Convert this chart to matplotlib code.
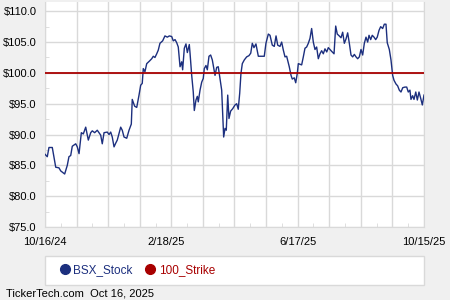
import matplotlib
matplotlib.use("Agg")
import matplotlib.pyplot as plt
from matplotlib.lines import Line2D
from matplotlib.patches import Rectangle
import numpy as np

# days since 10/16/24 and closing price
days = [
    0.0, 2.2, 3.8, 7.0, 10.3, 13.4, 15.1, 18.9, 21.4, 23.0, 24.7, 26.2, 29.5, 31.0, 32.7,
    34.9, 36.8, 39.1, 41.6, 43.9, 45.4, 47.7, 50.2, 51.9, 53.5, 55.0, 56.7, 59.8, 61.5,
    63.1, 64.6, 66.3, 67.9, 69.4, 72.7, 74.2, 75.9, 78.5, 80.7, 82.9, 83.8, 86.1, 88.1,
    90.3, 91.9, 93.4, 94.4,
    96.0, 97.7, 100.2, 102.5, 104.0, 105.6, 107.3, 108.8, 110.4, 113.0, 115.2, 117.5,
    119.4, 121.7, 123.2, 124.9, 126.5, 128.0, 129.7, 131.3, 132.2, 133.8, 135.4, 136.7,
    138.6, 139.3, 140.9, 142.4, 143.4, 145.0, 146.3, 147.2, 148.9, 150.5, 152.0, 153.0,
    154.6, 155.9, 157.5, 159.1, 160.7, 162.3, 163.3, 164.9, 166.4, 168.1, 169.7, 170.7,
    171.6, 172.9, 174.1, 175.5, 176.7, 178.3, 180.3,
    182.5, 184.1, 185.6, 187.0, 188.2, 189.5, 191.4, 193.7, 195.9, 197.6, 199.1, 200.7,
    202.6, 204.9, 207.4, 210.6, 212.2, 214.5, 216.1, 218.3, 220.2, 221.9, 223.5, 225.7,
    227.3, 228.9, 230.5, 232.1, 233.1, 234.6, 236.3, 237.5, 239.4, 240.8, 242.3, 243.3,
    244.9, 246.5, 248.1, 249.7, 251.3, 252.9, 254.5, 256.1, 257.7, 259.3, 260.9, 262.5,
    264.1, 265.7, 267.3, 268.9, 270.6, 272.1,
    273.7, 275.3, 277.6, 279.2, 280.7, 282.6, 284.3, 285.9, 287.5, 289.1, 290.7, 292.3,
    293.9, 295.5, 297.1, 298.7, 300.3, 301.9, 303.5, 305.1, 306.7, 308.3, 309.9, 311.2,
    312.8, 314.3, 316.0, 317.6, 319.1, 320.8, 322.4, 324.3, 325.9, 327.5, 328.7, 330.7,
    332.3, 333.9, 335.2, 337.1, 338.7, 340.3, 341.9, 343.6, 345.7, 347.4, 348.9, 350.5,
    351.5, 353.1, 354.4, 356.1, 357.6, 359.2, 360.8, 362.4, 364.0,
]
bsx_stock = [
    86.8, 86.4, 87.9, 87.9, 84.7, 84.6, 84.1, 83.6, 85.0, 86.4, 86.6, 88.1, 88.5, 88.0, 86.9,
    90.3, 90.1, 91.2, 89.1, 90.3, 90.6, 90.3, 90.7, 90.3, 89.9, 88.5, 90.3, 90.4, 90.0,
    90.4, 89.6, 88.0, 88.6, 89.1, 91.2, 90.7, 89.6, 89.4, 90.7, 91.7, 95.7, 94.6, 94.4,
    96.4, 98.0, 98.3, 100.7,
    100.2, 101.5, 101.9, 102.3, 102.7, 102.5, 103.1, 103.7, 104.8, 105.2, 106.0, 105.8,
    106.0, 105.9, 105.2, 105.4, 104.9, 104.2, 101.0, 101.8, 100.5, 104.0, 104.7, 103.3,
    104.6, 103.2, 99.6, 96.9, 93.9, 95.6, 96.2, 95.3, 97.2, 98.5, 99.1, 100.7,
    101.2, 100.5, 102.7, 102.9, 102.1, 100.5, 99.6, 100.9, 101.0, 99.1, 97.2, 93.4,
    89.6, 91.0, 90.7, 96.4, 92.6, 93.8, 94.2,
    94.8, 95.0, 94.1, 96.7, 99.9, 101.5, 102.1, 102.6, 102.8, 103.2, 104.8, 104.1,
    104.7, 102.7, 102.7, 102.7, 104.8, 106.3, 106.1, 104.5, 104.3, 106.0, 104.5, 104.3,
    105.0, 103.7, 102.6, 102.7, 102.0, 101.0, 99.6, 99.0, 99.2, 98.4, 99.9, 101.5,
    101.4, 101.3, 102.6, 104.0, 104.2, 104.8, 105.6, 107.2, 105.0, 103.8, 104.2, 102.3,
    103.1, 103.6, 103.1, 103.9, 103.4, 104.1,
    103.8, 103.5, 103.1, 107.6, 106.3, 106.0, 105.7, 106.6, 104.8, 105.5, 106.5, 104.8,
    102.9, 102.6, 103.0, 102.6, 102.3, 102.6, 103.8, 102.9, 104.8, 105.8, 105.0, 106.1,
    105.4, 106.1, 105.8, 105.4, 105.8, 106.9, 107.5, 107.2, 107.9, 107.9, 104.9, 103.8,
    102.1, 99.6, 98.8, 98.2, 97.9, 97.2, 96.9, 97.6, 97.7, 97.7, 96.9, 97.2,
    95.7, 96.3, 95.7, 96.9, 95.6, 96.9, 95.9, 94.8, 96.4,
]
strike = 100.0

date_labels = ['10/16/24', '2/18/25', '6/17/25', '10/15/25']
label_days = [0, 116, 243, 364]

stock_color = '#1c2f7e'
strike_color = '#a80000'
grid_color = '#d9d9d9'

plt.rcParams['font.family'] = ['Liberation Sans', 'DejaVu Sans']

fig = plt.figure(figsize=(4.5, 3), dpi=100, facecolor='#f0f0f0')
ax = fig.add_axes([0.1, 0.2433, 0.8422, 0.75])

ax.plot(days, bsx_stock, color=stock_color, lw=1.0, zorder=3)
ax.axhline(strike, color=strike_color, lw=1.3, zorder=4)

ax.set_xlim(0, 364)
ax.set_ylim(75, 111.5)

# monthly grid
for g in np.linspace(0, 364, 13):
    ax.axvline(g, color=grid_color, lw=1.0, zorder=1)
ax.set_xticks(label_days)
ax.set_xticklabels(date_labels)
ax.set_xticks(np.linspace(0, 364, 25)[1::2], minor=True)

ax.set_yticks(np.arange(75, 111, 5))
ax.set_yticklabels([f'${v:.1f}' for v in np.arange(75, 111, 5)])
ax.set_yticks(np.arange(77.5, 111, 5), minor=True)
ax.grid(axis='y', which='major', color=grid_color, lw=1.0, zorder=1)

ax.tick_params(which='major', length=0, labelsize=8, colors='black')
ax.tick_params(axis='x', which='major', pad=7)
ax.tick_params(axis='y', which='major', pad=6)
ax.tick_params(which='minor', direction='in', length=3, color=grid_color)

for s in ['left', 'bottom', 'right']:
    ax.spines[s].set_color(grid_color)
ax.spines['top'].set_visible(False)

# legend box
fig.add_artist(Rectangle((0.1, 0.05), 0.8422, 0.0967, transform=fig.transFigure,
                         facecolor='white', edgecolor=grid_color, lw=1.0))
handles = [
    Line2D([], [], marker='o', ls='none', color=stock_color, markersize=7),
    Line2D([], [], marker='o', ls='none', color=strike_color, markersize=7),
]
leg = fig.legend(handles, ['BSX_Stock', '100_Strike'], loc='center left',
                 bbox_to_anchor=(0.105, 0.099), ncol=2, frameon=False,
                 fontsize=8.5, handletextpad=0.1, columnspacing=0.9, handlelength=1.2)
for txt, c in zip(leg.get_texts(), [stock_color, strike_color]):
    txt.set_color(c)

fig.text(0.013, 0.02, 'TickerTech.com  Oct 16, 2025', fontsize=8, va='center')

fig.savefig('out.png', dpi=100, facecolor=fig.get_facecolor())
